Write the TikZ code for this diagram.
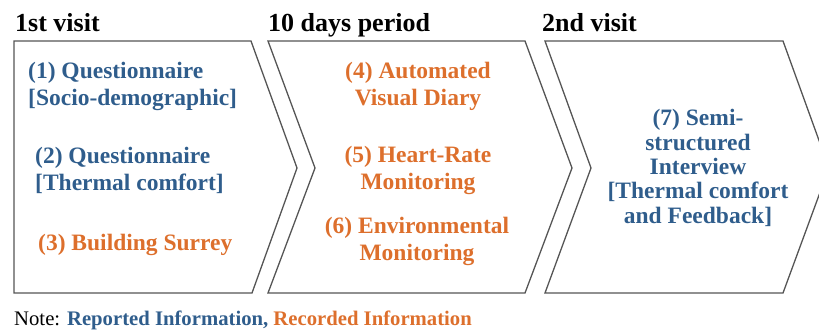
\documentclass[tikz,border=0pt]{standalone}
\usepackage{fontspec}
\setmainfont{Liberation Serif}
\definecolor{repblue}{HTML}{2F5D8C}
\definecolor{recorange}{HTML}{DD6F2C}
\definecolor{edgegray}{HTML}{555555}
\begin{document}
\begin{tikzpicture}[x=1pt,y=-1pt,
  phase/.style={draw=edgegray,line width=1.3pt,line join=miter},
  title/.style={anchor=base west,inner sep=0pt,font=\fontsize{26}{28}\selectfont\bfseries},
  item/.style={inner sep=0pt,font=\fontsize{23.5}{27}\selectfont\bfseries},
  rep/.style={item,text=repblue},
  rec/.style={item,text=recorange}]
\useasboundingbox (0,0) rectangle (819,331);
\clip (0,0) rectangle (819,331);
% phases
\draw[phase] (14,41) -- (251,41) -- (297,168) -- (252,293) -- (14,293) -- cycle;
\draw[phase] (268,41) -- (525,41) -- (572,168) -- (525,293) -- (268,293) -- (315,168) -- cycle;
\draw[phase] (545,41) -- (783,41) -- (829,168) -- (783,293) -- (545,293) -- (591,168) -- cycle;
% titles
\node[title] (t1) at (15,32) {1st visit};
\node[title] (t2) at (268,32) {10 days period};
\node[title] (t3) at (542,32) {2nd visit};
% first visit
\node[rep,anchor=west,align=left] (q1) at (28,86) {(1) Questionnaire\\{[Socio-demographic]}};
\node[rep,anchor=west,align=left] (q2) at (35,170) {(2) Questionnaire\\{[Thermal comfort]}};
\node[rec,anchor=west] (bs) at (38,245) {(3) Building Surrey};
% 10 days
\node[rec,align=center] (vd) at (418,86) {(4) Automated\\Visual Diary};
\node[rec,align=center] (hr) at (418,170) {(5) Heart-Rate\\Monitoring};
\node[rec,align=center] (em) at (417,241) {(6) Environmental\\Monitoring};
% second visit
\node[rep,align=center,font=\fontsize{23.5}{24.3}\selectfont\bfseries] (si) at (698,168) {(7) Semi-\\structured\\Interview\\{[Thermal comfort}\\and Feedback]};
% note
\node[anchor=base west,inner sep=0pt,font=\fontsize{20.7}{22}\selectfont] (note) at (14,325)
  {Note: \textcolor{repblue}{\bfseries Reported Information,} \textcolor{recorange}{\bfseries Recorded Information}};
\end{tikzpicture}
\end{document}
